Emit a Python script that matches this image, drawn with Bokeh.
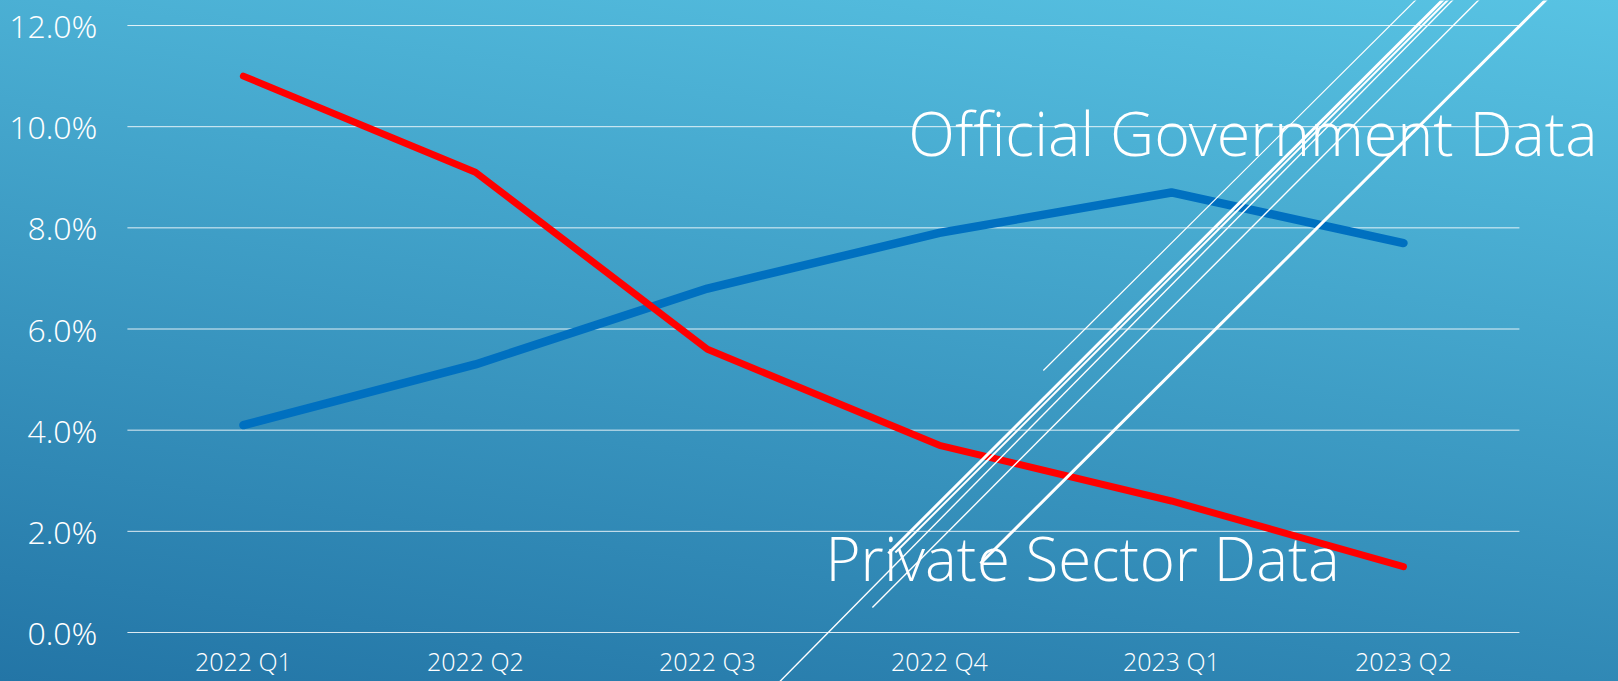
from bokeh.plotting import figure
from bokeh.models import Range1d, FixedTicker, PrintfTickFormatter, Label, ColumnDataSource
from bokeh.embed import file_html
from bokeh.resources import INLINE

# ---- data ----
quarters = ["2022 Q1", "2022 Q2", "2022 Q3", "2022 Q4", "2023 Q1", "2023 Q2"]
official = [4.1, 5.3, 6.8, 7.9, 8.7, 7.7]
private = [11.0, 9.1, 5.6, 3.7, 2.6, 1.3]
y_ticks = [0, 2, 4, 6, 8, 10, 12]
series_names = ["Official Government Data", "Private Sector Data"]

# decorative diagonal strokes of the slide theme (x0, y0, x1, y1, width) in data units
deco_x0 = [2.780, 2.810, 2.284, 3.448, 2.711, 3.177]
deco_y0 = [1.562, 1.582, -1.10, 5.180, 0.494, 1.364]
deco_x1 = [5.190, 5.212, 5.233, 5.074, 5.345, 5.634]
deco_y1 = [12.60, 12.60, 12.60, 12.60, 12.60, 12.60]
deco_w = [3.0, 2.0, 1.4, 1.2, 1.4, 3.0]

FONT = "'Open Sans Light', 'Open Sans'"

xs = list(range(len(quarters)))

p = figure(width=1618, height=681,
           x_range=Range1d(-1.047, 5.927), y_range=Range1d(-0.969, 12.495),
           output_backend="svg", toolbar_location=None, min_border=0,
           styles={"background": "linear-gradient(8deg, #2375A6 0%, #58C3E3 100%)"})
p.background_fill_alpha = 0
p.border_fill_alpha = 0
p.outline_line_color = None
p.grid.visible = False

# axes (fixed inside the frame)
xa = p.xaxis[0]
ya = p.yaxis[0]
xa.fixed_location = 0
ya.fixed_location = -0.5
xa.ticker = FixedTicker(ticks=xs)
xa.major_label_overrides = {i: q for i, q in zip(xs, quarters)}
ya.ticker = FixedTicker(ticks=y_ticks)
ya.formatter = PrintfTickFormatter(format="%.1f%%")
for ax in (xa, ya):
    ax.axis_line_color = None
    ax.major_tick_line_color = None
    ax.minor_tick_line_color = None
    ax.major_tick_out = 0
    ax.major_tick_in = 0
    ax.major_label_text_color = "white"
    ax.major_label_text_font = FONT
xa.major_label_text_font_size = "25px"
ya.major_label_text_font_size = "32px"
xa.major_label_standoff = 12
ya.major_label_standoff = 30

# horizontal grid lines at the y ticks, spanning the category area
p.segment(x0=[-0.5] * len(y_ticks), x1=[len(quarters) - 0.5] * len(y_ticks),
          y0=y_ticks, y1=y_ticks, line_color="white", line_width=1, line_alpha=0.85)

# data lines
p.line(xs, official, line_color="#0070C0", line_width=8.5, line_cap="round", line_join="round")
p.line(xs, private, line_color="#FF0000", line_width=7, line_cap="round", line_join="round")

# series labels
p.add_layout(Label(x=2.866, y=9.89, text=series_names[0], text_color="white",
                   text_font=FONT, text_font_size="61px", text_baseline="alphabetic"))
p.add_layout(Label(x=2.509, y=1.47, text=series_names[1], text_color="white",
                   text_font=FONT, text_font_size="60px", text_baseline="alphabetic"))

# decorative strokes
deco = ColumnDataSource(dict(x0=deco_x0, y0=deco_y0, x1=deco_x1, y1=deco_y1, w=deco_w))
p.segment(x0="x0", y0="y0", x1="x1", y1="y1", line_width="w", line_color="white", source=deco)

open("out.html", "w").write(file_html(p, INLINE))
